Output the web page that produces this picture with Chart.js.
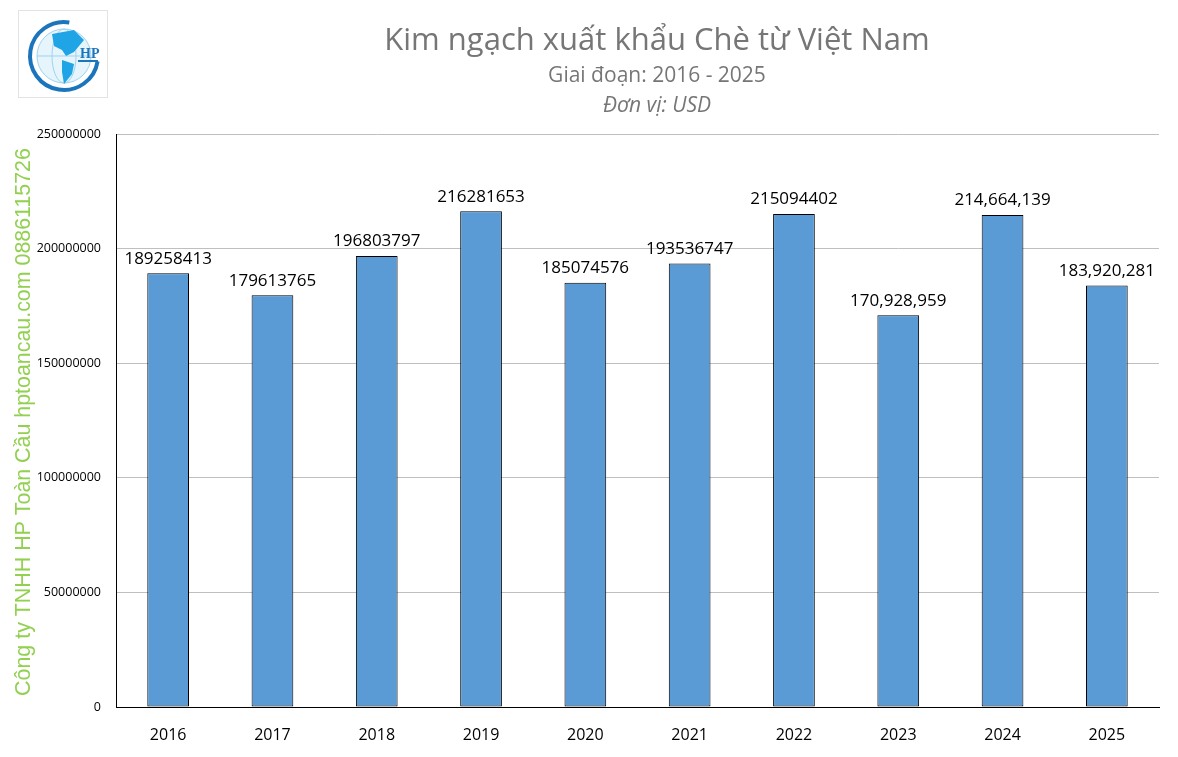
<!DOCTYPE html>
<html>
<head>
<meta charset="utf-8">
<script src="https://cdn.jsdelivr.net/npm/chart.js@4"></script>
<style>
  html, body { margin: 0; padding: 0; background: #fff; }
  #wrap { width: 1178px; height: 757px; position: relative; }
</style>
</head>
<body>
<div id="wrap"><canvas id="myChart" width="1178" height="757"></canvas></div>
<script>
// data
var years = ['2016', '2017', '2018', '2019', '2020', '2021', '2022', '2023', '2024', '2025'];
var values = [189258413, 179613765, 196803797, 216281653, 185074576, 193536747, 215094402, 170928959, 214664139, 183920281];
var valueLabels = ['189258413', '179613765', '196803797', '216281653', '185074576', '193536747', '215094402', '170,928,959', '214,664,139', '183,920,281'];
var yTicks = [0, 50000000, 100000000, 150000000, 200000000, 250000000];

var titleText = 'Kim ngạch xuất khẩu Chè từ Việt Nam';
var subText1 = 'Giai đoạn: 2016 - 2025';
var subText2 = 'Đơn vị: USD';
var sideText = 'Công ty TNHH HP Toàn Cầu hptoancau.com 0886115726';

/////////////////////////////////////////////////////////////////
// titles, side text, logo
var decorPlugin = {
    id: 'decor',
    beforeDraw: function (chart) {
        var ctx = chart.ctx;
        ctx.save();
        ctx.fillStyle = '#fff';
        ctx.fillRect(0, 0, chart.width, chart.height);

        // logo box
        ctx.strokeStyle = '#e3e3e3';
        ctx.lineWidth = 1;
        ctx.strokeRect(18.5, 10.5, 89, 87);
        // globe
        ctx.beginPath();
        ctx.arc(64, 56, 27, 0, Math.PI * 2);
        ctx.fillStyle = '#e6f4fc';
        ctx.fill();
        ctx.strokeStyle = '#9fd3f0';
        ctx.lineWidth = 1;
        ctx.stroke();
        ctx.beginPath();
        ctx.ellipse(64, 56, 12, 27, 0, 0, Math.PI * 2);
        ctx.moveTo(37, 56); ctx.lineTo(91, 56);
        ctx.stroke();
        // continents (rough)
        ctx.fillStyle = '#1fa4e6';
        ctx.beginPath();
        ctx.moveTo(52, 34); ctx.lineTo(74, 30); ctx.lineTo(84, 40); ctx.lineTo(74, 52);
        ctx.lineTo(66, 56); ctx.lineTo(62, 50); ctx.lineTo(54, 46); ctx.closePath();
        ctx.fill();
        ctx.beginPath();
        ctx.moveTo(62, 60); ctx.lineTo(74, 64); ctx.lineTo(72, 74); ctx.lineTo(64, 84);
        ctx.lineTo(62, 72); ctx.closePath();
        ctx.fill();
        // outer arc
        ctx.beginPath();
        ctx.arc(64, 56, 34, Math.PI * 0.05, Math.PI * 1.55);
        ctx.strokeStyle = '#1b75bc';
        ctx.lineWidth = 4;
        ctx.stroke();
        ctx.fillStyle = '#1b75bc';
        ctx.font = 'bold 14px "Liberation Serif"';
        ctx.textAlign = 'left';
        ctx.textBaseline = 'alphabetic';
        ctx.fillText('HP', 80, 58);
        ctx.fillRect(78, 60, 20, 2);

        // titles
        ctx.textAlign = 'center';
        ctx.textBaseline = 'middle';
        ctx.fillStyle = '#767676';
        ctx.font = '31px "Open Sans"';
        ctx.fillText(titleText, 657, 41);
        ctx.font = '21px "Open Sans"';
        ctx.fillText(subText1, 657, 76);
        ctx.font = 'italic 21px "Open Sans"';
        ctx.fillText(subText2, 657, 106);

        // side text
        ctx.translate(24, 422);
        ctx.rotate(-Math.PI / 2);
        ctx.fillStyle = '#92d050';
        ctx.font = '21.4px "Liberation Sans"';
        ctx.fillText(sideText, 0, 0);
        ctx.restore();
    }
};

// labels above bars
var valueLabelPlugin = {
    id: 'valueLabels',
    afterDatasetsDraw: function (chart) {
        var ctx = chart.ctx;
        var meta = chart.getDatasetMeta(0);
        ctx.save();
        ctx.font = '17px "Open Sans"';
        ctx.fillStyle = '#000';
        ctx.textAlign = 'center';
        ctx.textBaseline = 'bottom';
        meta.data.forEach(function (bar, i) {
            ctx.fillText(valueLabels[i], bar.x, bar.y - 6);
        });
        ctx.restore();
    }
};

/////////////////////////////////////////////////////////////////
var data = {
    labels: years,
    datasets: [{
        data: values,
        backgroundColor: '#5b9bd5',
        borderColor: '#000',
        borderWidth: 1,
        borderSkipped: false,
        barPercentage: 0.4,
        categoryPercentage: 1
    }]
};

var config = {
    type: 'bar',
    data: data,
    options: {
        responsive: false,
        animation: false,
        layout: { padding: { left: 0, top: 134, right: 19, bottom: 0 } },
        plugins: {
            legend: { display: false },
            tooltip: { enabled: false }
        },
        scales: {
            x: {
                grid: { display: false, drawTicks: false },
                border: { color: '#000', width: 1 },
                ticks: { color: '#000', font: { family: 'Open Sans', size: 16 }, padding: 19 },
                afterFit: function (scale) { scale.height = 50; }
            },
            y: {
                min: 0,
                max: 250000000,
                afterBuildTicks: function (scale) {
                    scale.ticks = yTicks.map(function (v) { return { value: v }; });
                },
                grid: { color: '#bfbfbf', drawTicks: false },
                border: { color: '#000', width: 1 },
                ticks: {
                    color: '#000',
                    font: { family: 'Open Sans', size: 12.5 },
                    padding: 15,
                    callback: function (v) { return String(v); }
                },
                afterFit: function (scale) { scale.width = 116; }
            }
        }
    },
    plugins: [decorPlugin, valueLabelPlugin]
};

var myChart = new Chart(document.getElementById('myChart'), config);
</script>
</body>
</html>
